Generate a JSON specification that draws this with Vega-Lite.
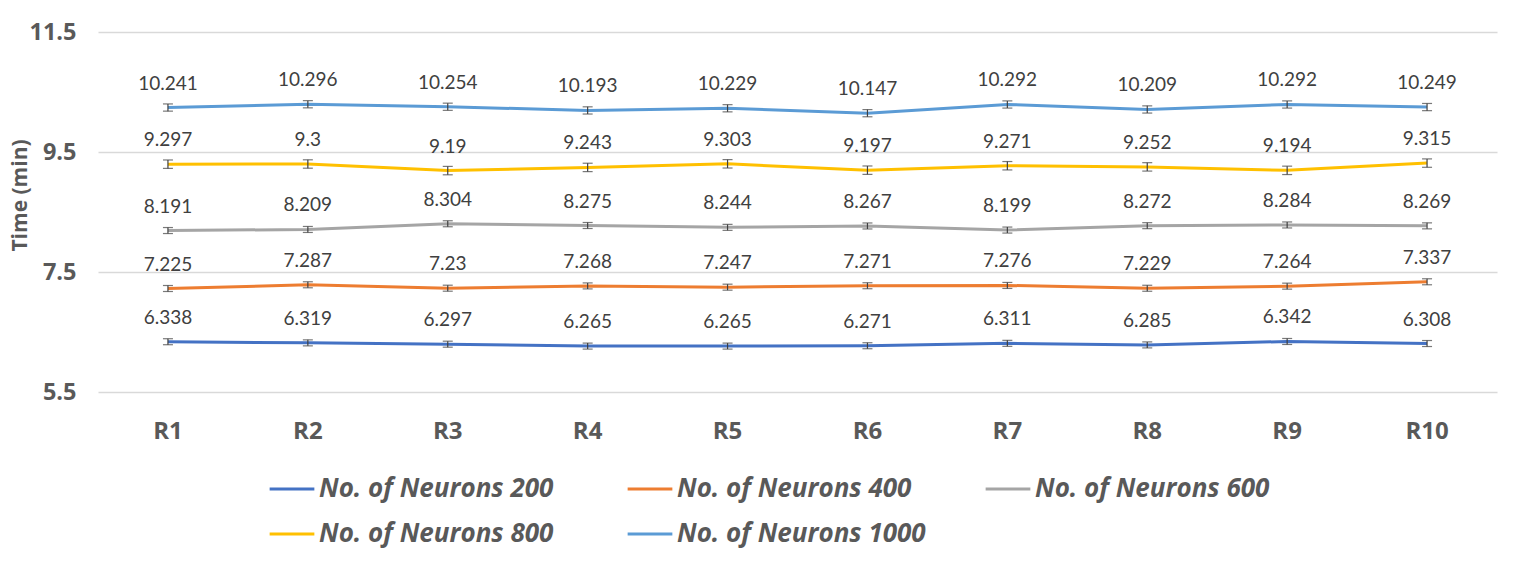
{
  "$schema": "https://vega.github.io/schema/vega-lite/v6.json",
  "width": 1399,
  "height": 360,
  "autosize": {"type": "none"},
  "padding": {"left": 98, "top": 32, "right": 18, "bottom": 170},
  "background": "white",
  "config": {
    "view": {"stroke": null},
    "font": "Open Sans"
  },
  "data": {
    "values": [
      {"run": "R1", "series": "No. of Neurons 200", "time": 6.338, "err": 0.05},
      {"run": "R2", "series": "No. of Neurons 200", "time": 6.319, "err": 0.05},
      {"run": "R3", "series": "No. of Neurons 200", "time": 6.297, "err": 0.05},
      {"run": "R4", "series": "No. of Neurons 200", "time": 6.265, "err": 0.05},
      {"run": "R5", "series": "No. of Neurons 200", "time": 6.265, "err": 0.05},
      {"run": "R6", "series": "No. of Neurons 200", "time": 6.271, "err": 0.05},
      {"run": "R7", "series": "No. of Neurons 200", "time": 6.311, "err": 0.05},
      {"run": "R8", "series": "No. of Neurons 200", "time": 6.285, "err": 0.05},
      {"run": "R9", "series": "No. of Neurons 200", "time": 6.342, "err": 0.05},
      {"run": "R10", "series": "No. of Neurons 200", "time": 6.308, "err": 0.05},
      {"run": "R1", "series": "No. of Neurons 400", "time": 7.225, "err": 0.05},
      {"run": "R2", "series": "No. of Neurons 400", "time": 7.287, "err": 0.05},
      {"run": "R3", "series": "No. of Neurons 400", "time": 7.23, "err": 0.05},
      {"run": "R4", "series": "No. of Neurons 400", "time": 7.268, "err": 0.05},
      {"run": "R5", "series": "No. of Neurons 400", "time": 7.247, "err": 0.05},
      {"run": "R6", "series": "No. of Neurons 400", "time": 7.271, "err": 0.05},
      {"run": "R7", "series": "No. of Neurons 400", "time": 7.276, "err": 0.05},
      {"run": "R8", "series": "No. of Neurons 400", "time": 7.229, "err": 0.05},
      {"run": "R9", "series": "No. of Neurons 400", "time": 7.264, "err": 0.05},
      {"run": "R10", "series": "No. of Neurons 400", "time": 7.337, "err": 0.05},
      {"run": "R1", "series": "No. of Neurons 600", "time": 8.191, "err": 0.05},
      {"run": "R2", "series": "No. of Neurons 600", "time": 8.209, "err": 0.05},
      {"run": "R3", "series": "No. of Neurons 600", "time": 8.304, "err": 0.05},
      {"run": "R4", "series": "No. of Neurons 600", "time": 8.275, "err": 0.05},
      {"run": "R5", "series": "No. of Neurons 600", "time": 8.244, "err": 0.05},
      {"run": "R6", "series": "No. of Neurons 600", "time": 8.267, "err": 0.05},
      {"run": "R7", "series": "No. of Neurons 600", "time": 8.199, "err": 0.05},
      {"run": "R8", "series": "No. of Neurons 600", "time": 8.272, "err": 0.05},
      {"run": "R9", "series": "No. of Neurons 600", "time": 8.284, "err": 0.05},
      {"run": "R10", "series": "No. of Neurons 600", "time": 8.269, "err": 0.05},
      {"run": "R1", "series": "No. of Neurons 800", "time": 9.297, "err": 0.07},
      {"run": "R2", "series": "No. of Neurons 800", "time": 9.3, "err": 0.07},
      {"run": "R3", "series": "No. of Neurons 800", "time": 9.19, "err": 0.07},
      {"run": "R4", "series": "No. of Neurons 800", "time": 9.243, "err": 0.07},
      {"run": "R5", "series": "No. of Neurons 800", "time": 9.303, "err": 0.07},
      {"run": "R6", "series": "No. of Neurons 800", "time": 9.197, "err": 0.07},
      {"run": "R7", "series": "No. of Neurons 800", "time": 9.271, "err": 0.07},
      {"run": "R8", "series": "No. of Neurons 800", "time": 9.252, "err": 0.07},
      {"run": "R9", "series": "No. of Neurons 800", "time": 9.194, "err": 0.07},
      {"run": "R10", "series": "No. of Neurons 800", "time": 9.315, "err": 0.07},
      {"run": "R1", "series": "No. of Neurons 1000", "time": 10.241, "err": 0.06},
      {"run": "R2", "series": "No. of Neurons 1000", "time": 10.296, "err": 0.06},
      {"run": "R3", "series": "No. of Neurons 1000", "time": 10.254, "err": 0.06},
      {"run": "R4", "series": "No. of Neurons 1000", "time": 10.193, "err": 0.06},
      {"run": "R5", "series": "No. of Neurons 1000", "time": 10.229, "err": 0.06},
      {"run": "R6", "series": "No. of Neurons 1000", "time": 10.147, "err": 0.06},
      {"run": "R7", "series": "No. of Neurons 1000", "time": 10.292, "err": 0.06},
      {"run": "R8", "series": "No. of Neurons 1000", "time": 10.209, "err": 0.06},
      {"run": "R9", "series": "No. of Neurons 1000", "time": 10.292, "err": 0.06},
      {"run": "R10", "series": "No. of Neurons 1000", "time": 10.249, "err": 0.06}
    ]
  },
  "encoding": {
    "x": {
      "field": "run",
      "type": "nominal",
      "sort": ["R1", "R2", "R3", "R4", "R5", "R6", "R7", "R8", "R9", "R10"],
      "scale": {"paddingInner": 0, "paddingOuter": 0},
      "axis": {
        "title": null,
        "labelAngle": 0,
        "domain": false,
        "ticks": false,
        "labelFont": "Open Sans",
        "labelFontWeight": "bold",
        "labelFontSize": 24,
        "labelColor": "#595959",
        "labelPadding": 27
      }
    },
    "y": {
      "field": "time",
      "type": "quantitative",
      "scale": {"domain": [5.5, 11.5], "nice": false, "zero": false},
      "axis": {
        "title": "Time (min)",
        "titleX": -78,
        "titleY": 163,
        "titleBaseline": "middle",
        "titleAngle": -90,
        "values": [5.5, 7.5, 9.5, 11.5],
        "format": ".1f",
        "domain": false,
        "ticks": false,
        "gridColor": "#d9d9d9",
        "gridWidth": 1.5,
        "labelFont": "Open Sans",
        "labelFontWeight": "bold",
        "labelFontSize": 23.5,
        "labelColor": "#595959",
        "labelPadding": 22,
        "titleFont": "Open Sans",
        "titleFontWeight": "bold",
        "titleFontSize": 21,
        "titleColor": "#595959"
      }
    }
  },
  "layer": [
    {
      "mark": {"type": "line", "strokeWidth": 3},
      "encoding": {
        "color": {
          "field": "series",
          "type": "nominal",
          "scale": {
            "domain": ["No. of Neurons 200", "No. of Neurons 400", "No. of Neurons 600", "No. of Neurons 800", "No. of Neurons 1000"],
            "range": ["#4472C4", "#ED7D31", "#A5A5A5", "#FFC000", "#5B9BD5"]
          },
          "legend": {
            "title": null,
            "orient": "none",
            "legendX": 170,
            "legendY": 433,
            "direction": "horizontal",
            "columns": 3,
            "gridAlign": "all",
            "columnPadding": 53,
            "rowPadding": 8,
            "symbolType": "stroke",
            "symbolStrokeWidth": 3,
            "symbolSize": 2000,
            "labelOffset": 3,
            "labelFont": "Open Sans",
            "labelFontStyle": "italic",
            "labelFontWeight": "bold",
            "labelFontSize": 26,
            "labelColor": "#595959",
            "labelLimit": 400
          }
        }
      }
    },
    {
      "mark": {"type": "errorbar", "ticks": {"size": 10, "color": "#404040"}, "color": "#404040", "thickness": 1.2},
      "encoding": {
        "yError": {"field": "err"},
        "detail": {"field": "series", "type": "nominal"}
      }
    },
    {
      "mark": {"type": "text", "dy": -24, "fontSize": 19, "color": "#404040", "font": "Lato"},
      "encoding": {
        "text": {"field": "time", "type": "nominal"}
      }
    }
  ]
}
